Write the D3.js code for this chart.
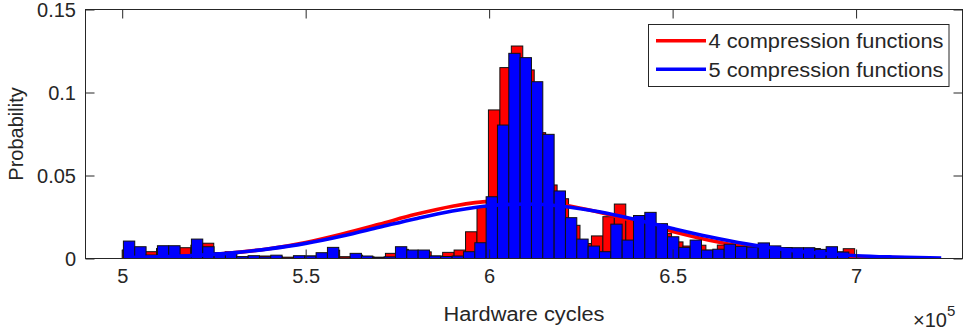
<!DOCTYPE html>
<html><head><meta charset="utf-8">
<script src="https://cdn.jsdelivr.net/npm/d3@7"></script>
<style>
body{margin:0;background:#fff}
svg{display:block}
text{font-family:"Liberation Sans",Arial,Helvetica,sans-serif;fill:#262626}
</style>
</head><body>
<svg id="chart" width="965" height="331"></svg>
<script>
// ---------------- data ----------------
const seriesNames = ["4 compression functions", "5 compression functions"];
const seriesColors = ["#ff0000", "#0000ff"];

// histogram bins (64 bins each)
const redBinStart = 500000, redBinWidth = 3119;
const blueBinStart = 500330, blueBinWidth = 3089;

const redProb = [
  0.0050, 0.0040, 0.0041, 0.0060, 0.0060, 0.0065, 0.0080, 0.0092, 0.0030, 0.0041,
  0.0010, 0.0012, 0.0015, 0.0010, 0.0008, 0.0010, 0.0015, 0.0030, 0.0050, 0.0011,
  0.0020, 0.0010, 0.0008, 0.0031, 0.0055, 0.0040, 0.0040, 0.0015, 0.0037, 0.0051,
  0.0161, 0.0310, 0.0895, 0.1150, 0.1280, 0.1136, 0.0758, 0.0443, 0.0360, 0.0200,
  0.0090, 0.0136, 0.0252, 0.0328, 0.0240, 0.0200, 0.0200, 0.0150, 0.0100, 0.0075,
  0.0080, 0.0050, 0.0081, 0.0070, 0.0070, 0.0060, 0.0070, 0.0060, 0.0060, 0.0060,
  0.0060, 0.0050, 0.0040, 0.0059
];
const blueProb = [
  0.0105, 0.0071, 0.0021, 0.0077, 0.0077, 0.0020, 0.0117, 0.0071, 0.0035, 0.0031,
  0.0011, 0.0017, 0.0010, 0.0020, 0.0003, 0.0017, 0.0015, 0.0035, 0.0067, 0.0003,
  0.0031, 0.0015, 0.0005, 0.0010, 0.0071, 0.0051, 0.0051, 0.0015, 0.0012, 0.0015,
  0.0041, 0.0095, 0.0372, 0.0804, 0.1236, 0.1210, 0.1065, 0.0748, 0.0407, 0.0246,
  0.0117, 0.0075, 0.0041, 0.0207, 0.0111, 0.0259, 0.0278, 0.0210, 0.0131, 0.0067,
  0.0111, 0.0051, 0.0056, 0.0086, 0.0073, 0.0069, 0.0094, 0.0076, 0.0066, 0.0065,
  0.0065, 0.0055, 0.0071, 0.0039
];

// fitted distribution curves
const redFitX = [500000,510000,520000,530000,540000,550000,560000,570000,580000,590000,600000,
  610000,620000,630000,640000,650000,660000,670000,680000,690000,700000,710000,713600];
const redFitY = [0.0004,0.0009,0.0018,0.0034,0.0059,0.0097,0.0148,0.0206,0.0266,0.0315,0.0344,
  0.0347,0.0324,0.0279,0.0222,0.0163,0.0110,0.0069,0.0040,0.0021,0.0011,0.0005,0.00035];
const blueFitX = [501700,510000,520000,530000,540000,550000,560000,570000,580000,590000,600000,
  610000,620000,630000,640000,650000,660000,670000,680000,690000,700000,710000,720000,723200];
const blueFitY = [0.00055,0.0010,0.0019,0.0034,0.0058,0.0091,0.0136,0.0188,0.0240,0.0286,0.0318,
  0.0328,0.0315,0.0281,0.0234,0.0181,0.0131,0.0088,0.0055,0.0032,0.0017,0.0009,0.0004,0.0003];

const xTicks = [500000, 550000, 600000, 650000, 700000];
const xTickLabels = ["5", "5.5", "6", "6.5", "7"];
const yTicks = [0, 0.05, 0.1, 0.15];
const yTickLabels = ["0", "0.05", "0.1", "0.15"];
const xLabel = "Hardware cycles";
const yLabel = "Probability";

// ---------------- layout ----------------
const L = 85.5, R = 962.5, T = 9.5, B = 258.5;
const svg = d3.select("#chart");
const x = d3.scaleLinear().domain([490000, 729000]).range([L, R]);
const y = d3.scaleLinear().domain([0, 0.15]).range([B, T]);
const axisColor = "#262626";

svg.append("defs").append("clipPath").attr("id", "clip")
  .append("rect").attr("x", L).attr("y", T).attr("width", R - L).attr("height", B - T);
const plot = svg.append("g").attr("clip-path", "url(#clip)");

function drawBars(probs, start, width, color) {
  plot.append("g").selectAll("rect").data(probs).join("rect")
    .attr("x", (d, i) => x(start + i * width))
    .attr("width", (d, i) => x(start + (i + 1) * width) - x(start + i * width))
    .attr("y", d => y(d))
    .attr("height", d => y(0) - y(d))
    .attr("fill", color)
    .attr("stroke", "#111")
    .attr("stroke-width", 1);
}
function drawFit(xs, ys, color) {
  const line = d3.line().x(d => x(d[0])).y(d => y(d[1])).curve(d3.curveMonotoneX);
  plot.append("path").datum(xs.map((v, i) => [v, ys[i]]))
    .attr("d", line).attr("fill", "none").attr("stroke", color)
    .attr("stroke-width", 3.6).attr("stroke-linejoin", "round");
}

drawBars(redProb, redBinStart, redBinWidth, seriesColors[0]);
drawFit(redFitX, redFitY, seriesColors[0]);
drawBars(blueProb, blueBinStart, blueBinWidth, seriesColors[1]);
drawFit(blueFitX, blueFitY, seriesColors[1]);

// ---------------- axes ----------------
function style(g) {
  g.select(".domain").remove();
  g.selectAll(".tick line").attr("stroke", axisColor);
  g.selectAll("text").attr("font-size", 20).attr("fill", axisColor)
    .attr("font-family", '"Liberation Sans",Arial,sans-serif');
}
svg.append("g").attr("transform", `translate(0,${B})`)
  .call(d3.axisBottom(x).tickValues(xTicks).tickFormat((d, i) => xTickLabels[i])
    .tickSize(-9).tickSizeOuter(0).tickPadding(10)).call(style);
svg.append("g").attr("transform", `translate(0,${T})`)
  .call(d3.axisTop(x).tickValues(xTicks).tickFormat("").tickSize(-9).tickSizeOuter(0)).call(style);
const yAx = svg.append("g").attr("transform", `translate(${L},0)`)
  .call(d3.axisLeft(y).tickValues(yTicks).tickFormat((d, i) => yTickLabels[i])
    .tickSize(-9).tickSizeOuter(0).tickPadding(9.5)).call(style);
yAx.selectAll(".tick text").attr("dy", "0.36em");
svg.append("g").attr("transform", `translate(${R},0)`)
  .call(d3.axisRight(y).tickValues(yTicks).tickFormat("").tickSize(-9).tickSizeOuter(0)).call(style);

svg.append("rect").attr("x", L).attr("y", T).attr("width", R - L).attr("height", B - T)
  .attr("fill", "none").attr("stroke", axisColor).attr("stroke-width", 1);

// axis labels
svg.append("text").attr("x", (L + R) / 2).attr("y", 320.5).attr("text-anchor", "middle")
  .attr("font-size", 20).attr("textLength", 161).attr("lengthAdjust", "spacingAndGlyphs").text(xLabel);
svg.append("text").attr("transform", `translate(23,${(T + B) / 2}) rotate(-90)`)
  .attr("text-anchor", "middle").attr("font-size", 20).text(yLabel);

// exponent label
const ex = svg.append("text").attr("x", 913).attr("y", 326.5).attr("font-size", 20);
ex.append("tspan").text("\u00d710");
ex.append("tspan").attr("font-size", 15).attr("dy", -11).text("5");

// ---------------- legend ----------------
const lg = svg.append("g");
lg.append("rect").attr("x", 648.5).attr("y", 24.5).attr("width", 300.5).attr("height", 62)
  .attr("fill", "#fff").attr("stroke", axisColor).attr("stroke-width", 1);
seriesNames.forEach((name, i) => {
  const cy = 40.7 + i * 28.6;
  lg.append("line").attr("x1", 656).attr("x2", 706).attr("y1", cy).attr("y2", cy)
    .attr("stroke", seriesColors[i]).attr("stroke-width", 3.6);
  lg.append("text").attr("x", 708.5).attr("y", cy + 7.6).attr("font-size", 20)
    .attr("textLength", 235).attr("lengthAdjust", "spacingAndGlyphs").text(name);
});
</script>
</body></html>
